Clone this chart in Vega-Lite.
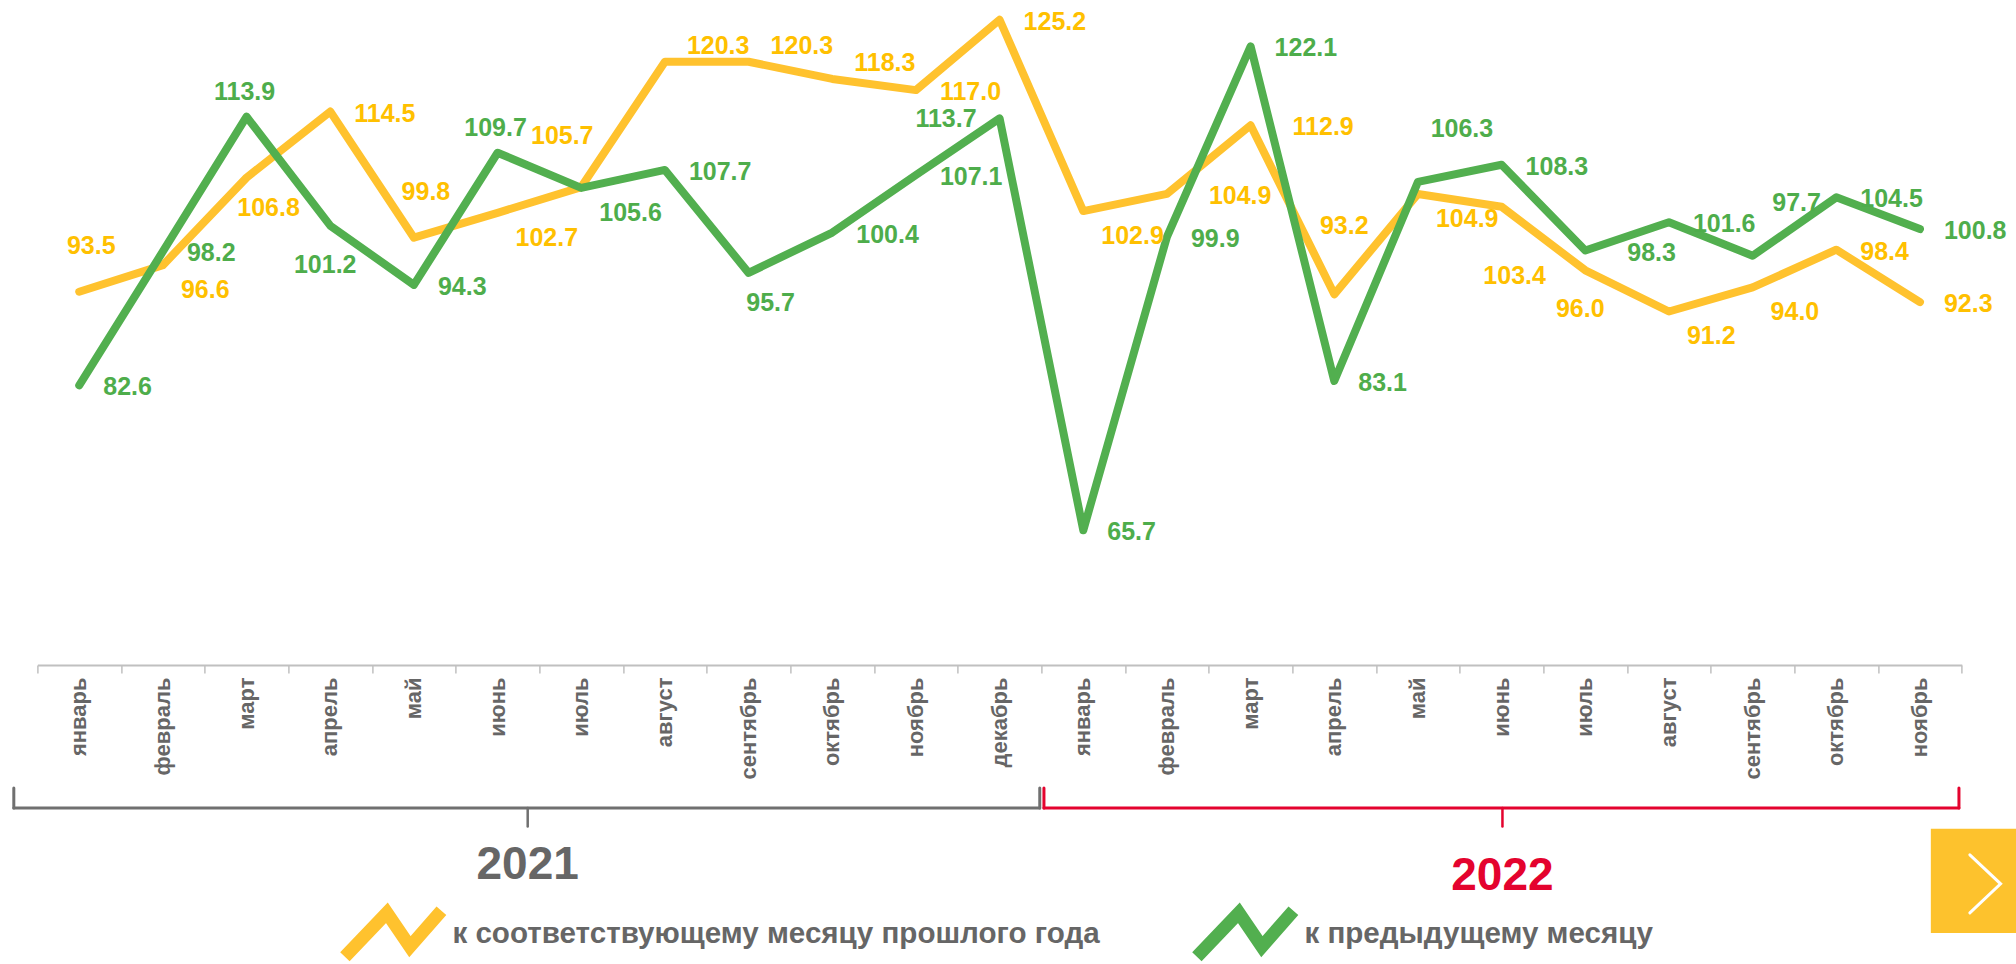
{
  "$schema": "https://vega.github.io/schema/vega-lite/v6.json",
  "background": "white",
  "padding": {"left": 11.4, "top": 0, "right": 0, "bottom": 0},
  "autosize": {"type": "pad"},
  "config": {
    "view": {"stroke": null},
    "font": "Liberation Sans",
    "text": {"font": "Liberation Sans", "fontWeight": "bold", "fontSize": 25, "baseline": "middle"}
  },
  "datasets": {
    "series": [
      {"i": 0, "series": "к соответствующему месяцу прошлого года", "value": 93.5, "pos": "uphigh"},
      {"i": 1, "series": "к соответствующему месяцу прошлого года", "value": 96.6, "pos": "rightdown"},
      {"i": 2, "series": "к соответствующему месяцу прошлого года", "value": 106.8, "pos": "downright"},
      {"i": 3, "series": "к соответствующему месяцу прошлого года", "value": 114.5, "pos": "right"},
      {"i": 4, "series": "к соответствующему месяцу прошлого года", "value": 99.8, "pos": "uphigh"},
      {"i": 5, "series": "к соответствующему месяцу прошлого года", "value": 102.7, "pos": "rightdown"},
      {"i": 6, "series": "к соответствующему месяцу прошлого года", "value": 105.7, "pos": "upleft"},
      {"i": 7, "series": "к соответствующему месяцу прошлого года", "value": 120.3, "pos": "rightup"},
      {"i": 8, "series": "к соответствующему месяцу прошлого года", "value": 120.3, "pos": "rightup"},
      {"i": 9, "series": "к соответствующему месяцу прошлого года", "value": 118.3, "pos": "rightup"},
      {"i": 10, "series": "к соответствующему месяцу прошлого года", "value": 117.0, "pos": "right"},
      {"i": 11, "series": "к соответствующему месяцу прошлого года", "value": 125.2, "pos": "right"},
      {"i": 12, "series": "к соответствующему месяцу прошлого года", "value": 102.9, "pos": "rightdown"},
      {"i": 13, "series": "к соответствующему месяцу прошлого года", "value": 104.9, "pos": "rightfar"},
      {"i": 14, "series": "к соответствующему месяцу прошлого года", "value": 112.9, "pos": "rightfar"},
      {"i": 15, "series": "к соответствующему месяцу прошлого года", "value": 93.2, "pos": "upfar"},
      {"i": 16, "series": "к соответствующему месяцу прошлого года", "value": 104.9, "pos": "rightdown"},
      {"i": 17, "series": "к соответствующему месяцу прошлого года", "value": 103.4, "pos": "downfar"},
      {"i": 18, "series": "к соответствующему месяцу прошлого года", "value": 96.0, "pos": "down"},
      {"i": 19, "series": "к соответствующему месяцу прошлого года", "value": 91.2, "pos": "rightdown"},
      {"i": 20, "series": "к соответствующему месяцу прошлого года", "value": 94.0, "pos": "rightdown"},
      {"i": 21, "series": "к соответствующему месяцу прошлого года", "value": 98.4, "pos": "right"},
      {"i": 22, "series": "к соответствующему месяцу прошлого года", "value": 92.3, "pos": "right"},
      {"i": 0, "series": "к предыдущему месяцу", "value": 82.6, "pos": "right"},
      {"i": 1, "series": "к предыдущему месяцу", "value": 98.2, "pos": "right"},
      {"i": 2, "series": "к предыдущему месяцу", "value": 113.9, "pos": "up"},
      {"i": 3, "series": "к предыдущему месяцу", "value": 101.2, "pos": "down"},
      {"i": 4, "series": "к предыдущему месяцу", "value": 94.3, "pos": "right"},
      {"i": 5, "series": "к предыдущему месяцу", "value": 109.7, "pos": "up"},
      {"i": 6, "series": "к предыдущему месяцу", "value": 105.6, "pos": "rightdown"},
      {"i": 7, "series": "к предыдущему месяцу", "value": 107.7, "pos": "right"},
      {"i": 8, "series": "к предыдущему месяцу", "value": 95.7, "pos": "downright"},
      {"i": 9, "series": "к предыдущему месяцу", "value": 100.4, "pos": "right"},
      {"i": 10, "series": "к предыдущему месяцу", "value": 107.1, "pos": "right"},
      {"i": 11, "series": "к предыдущему месяцу", "value": 113.7, "pos": "left"},
      {"i": 12, "series": "к предыдущему месяцу", "value": 65.7, "pos": "right"},
      {"i": 13, "series": "к предыдущему месяцу", "value": 99.9, "pos": "right"},
      {"i": 14, "series": "к предыдущему месяцу", "value": 122.1, "pos": "right"},
      {"i": 15, "series": "к предыдущему месяцу", "value": 83.1, "pos": "right"},
      {"i": 16, "series": "к предыдущему месяцу", "value": 106.3, "pos": "upright"},
      {"i": 17, "series": "к предыдущему месяцу", "value": 108.3, "pos": "right"},
      {"i": 18, "series": "к предыдущему месяцу", "value": 98.3, "pos": "rightfar"},
      {"i": 19, "series": "к предыдущему месяцу", "value": 101.6, "pos": "right"},
      {"i": 20, "series": "к предыдущему месяцу", "value": 97.7, "pos": "upright"},
      {"i": 21, "series": "к предыдущему месяцу", "value": 104.5, "pos": "right"},
      {"i": 22, "series": "к предыдущему месяцу", "value": 100.8, "pos": "right"}
    ],
    "months": [
      {"i": 0, "month": "январь", "year": "2021"},
      {"i": 1, "month": "февраль", "year": "2021"},
      {"i": 2, "month": "март", "year": "2021"},
      {"i": 3, "month": "апрель", "year": "2021"},
      {"i": 4, "month": "май", "year": "2021"},
      {"i": 5, "month": "июнь", "year": "2021"},
      {"i": 6, "month": "июль", "year": "2021"},
      {"i": 7, "month": "август", "year": "2021"},
      {"i": 8, "month": "сентябрь", "year": "2021"},
      {"i": 9, "month": "октябрь", "year": "2021"},
      {"i": 10, "month": "ноябрь", "year": "2021"},
      {"i": 11, "month": "декабрь", "year": "2021"},
      {"i": 12, "month": "январь", "year": "2022"},
      {"i": 13, "month": "февраль", "year": "2022"},
      {"i": 14, "month": "март", "year": "2022"},
      {"i": 15, "month": "апрель", "year": "2022"},
      {"i": 16, "month": "май", "year": "2022"},
      {"i": 17, "month": "июнь", "year": "2022"},
      {"i": 18, "month": "июль", "year": "2022"},
      {"i": 19, "month": "август", "year": "2022"},
      {"i": 20, "month": "сентябрь", "year": "2022"},
      {"i": 21, "month": "октябрь", "year": "2022"},
      {"i": 22, "month": "ноябрь", "year": "2022"}
    ],
    "years": [
      {"year": "2021", "start": -0.782, "end": 11.48, "mid": 5.36},
      {"year": "2022", "start": 11.53, "end": 22.466, "mid": 17.01}
    ],
    "nav": [{"button": "next"}]
  },
  "bounds": "flush",
  "spacing": 0,
  "vconcat": [
    {
      "width": 1924.4,
      "height": 665,
      "data": {"name": "series"},
      "encoding": {
        "x": {
          "field": "i", "type": "ordinal",
          "scale": {"type": "band", "paddingInner": 0, "paddingOuter": 0},
          "axis": {"labels": false, "title": null, "tickBand": "extent", "grid": false,
                   "domainColor": "#c0c0c0", "domainWidth": 2, "tickColor": "#c0c0c0", "tickWidth": 1.5, "tickSize": 8}
        },
        "y": {"field": "value", "type": "quantitative", "scale": {"domain": [50, 127.5], "zero": false, "nice": false}, "axis": null}
      },
      "layer": [
        {
          "transform": [{"filter": "datum.series === 'к соответствующему месяцу прошлого года'"}],
          "mark": {"type": "line", "strokeWidth": 8, "strokeCap": "round", "strokeJoin": "round"},
          "encoding": {
            "color": {
              "field": "series", "type": "nominal",
              "scale": {"domain": ["к соответствующему месяцу прошлого года", "к предыдущему месяцу"], "range": ["#FFC22E", "#52AF4F"]},
              "legend": {"orient": "none", "legendX": 300, "legendY": 877, "direction": "horizontal", "title": null,
                         "symbolType": "M-0.98,0.46L-0.14,-0.42L0.32,0.26L0.95,-0.46", "symbolSize": 10000, "symbolStrokeWidth": 13,
                         "symbolFillColor": "transparent", "labelFont": "Liberation Sans", "labelFontSize": 29.6, "labelFontWeight": "bold",
                         "labelColor": "#666666", "labelOffset": 2, "columnPadding": 70, "padding": 0, "labelLimit": 0}
            }
          }
        },
        {
          "transform": [{"filter": "datum.series === 'к предыдущему месяцу'"}],
          "mark": {"type": "line", "strokeWidth": 8, "strokeCap": "round", "strokeJoin": "round"},
          "encoding": {
            "color": {
              "field": "series", "type": "nominal",
              "scale": {"domain": ["к соответствующему месяцу прошлого года", "к предыдущему месяцу"], "range": ["#FFC22E", "#52AF4F"]},
              "legend": {"orient": "none", "legendX": 300, "legendY": 877, "direction": "horizontal", "title": null,
                         "symbolType": "M-0.98,0.46L-0.14,-0.42L0.32,0.26L0.95,-0.46", "symbolSize": 10000, "symbolStrokeWidth": 13,
                         "symbolFillColor": "transparent", "labelFont": "Liberation Sans", "labelFontSize": 29.6, "labelFontWeight": "bold",
                         "labelColor": "#666666", "labelOffset": 2, "columnPadding": 70, "padding": 0, "labelLimit": 0}
            }
          }
        },
        {
          "transform": [{"filter": "datum.pos === 'right'"}],
          "mark": {"type": "text", "align": "left", "dx": 24, "dy": 2},
          "encoding": {"text": {"field": "value", "type": "quantitative", "format": ".1f"},
            "color": {"condition": {"test": "datum.series === 'к предыдущему месяцу'", "value": "#4EAD4B"}, "value": "#FFC000"}}
        },
        {
          "transform": [{"filter": "datum.pos === 'rightfar'"}],
          "mark": {"type": "text", "align": "left", "dx": 42, "dy": 2},
          "encoding": {"text": {"field": "value", "type": "quantitative", "format": ".1f"},
            "color": {"condition": {"test": "datum.series === 'к предыдущему месяцу'", "value": "#4EAD4B"}, "value": "#FFC000"}}
        },
        {
          "transform": [{"filter": "datum.pos === 'rightup'"}],
          "mark": {"type": "text", "align": "left", "dx": 22, "dy": -16},
          "encoding": {"text": {"field": "value", "type": "quantitative", "format": ".1f"},
            "color": {"condition": {"test": "datum.series === 'к предыдущему месяцу'", "value": "#4EAD4B"}, "value": "#FFC000"}}
        },
        {
          "transform": [{"filter": "datum.pos === 'rightdown'"}],
          "mark": {"type": "text", "align": "left", "dx": 18, "dy": 25},
          "encoding": {"text": {"field": "value", "type": "quantitative", "format": ".1f"},
            "color": {"condition": {"test": "datum.series === 'к предыдущему месяцу'", "value": "#4EAD4B"}, "value": "#FFC000"}}
        },
        {
          "transform": [{"filter": "datum.pos === 'up'"}],
          "mark": {"type": "text", "align": "center", "dx": -2, "dy": -25},
          "encoding": {"text": {"field": "value", "type": "quantitative", "format": ".1f"},
            "color": {"condition": {"test": "datum.series === 'к предыдущему месяцу'", "value": "#4EAD4B"}, "value": "#FFC000"}}
        },
        {
          "transform": [{"filter": "datum.pos === 'uphigh'"}],
          "mark": {"type": "text", "align": "center", "dx": 12, "dy": -46},
          "encoding": {"text": {"field": "value", "type": "quantitative", "format": ".1f"},
            "color": {"condition": {"test": "datum.series === 'к предыдущему месяцу'", "value": "#4EAD4B"}, "value": "#FFC000"}}
        },
        {
          "transform": [{"filter": "datum.pos === 'upfar'"}],
          "mark": {"type": "text", "align": "center", "dx": 10, "dy": -68},
          "encoding": {"text": {"field": "value", "type": "quantitative", "format": ".1f"},
            "color": {"condition": {"test": "datum.series === 'к предыдущему месяцу'", "value": "#4EAD4B"}, "value": "#FFC000"}}
        },
        {
          "transform": [{"filter": "datum.pos === 'upright'"}],
          "mark": {"type": "text", "align": "center", "dx": 44, "dy": -53},
          "encoding": {"text": {"field": "value", "type": "quantitative", "format": ".1f"},
            "color": {"condition": {"test": "datum.series === 'к предыдущему месяцу'", "value": "#4EAD4B"}, "value": "#FFC000"}}
        },
        {
          "transform": [{"filter": "datum.pos === 'upleft'"}],
          "mark": {"type": "text", "align": "center", "dx": -19, "dy": -51},
          "encoding": {"text": {"field": "value", "type": "quantitative", "format": ".1f"},
            "color": {"condition": {"test": "datum.series === 'к предыдущему месяцу'", "value": "#4EAD4B"}, "value": "#FFC000"}}
        },
        {
          "transform": [{"filter": "datum.pos === 'left'"}],
          "mark": {"type": "text", "align": "right", "dx": -23, "dy": 1},
          "encoding": {"text": {"field": "value", "type": "quantitative", "format": ".1f"},
            "color": {"condition": {"test": "datum.series === 'к предыдущему месяцу'", "value": "#4EAD4B"}, "value": "#FFC000"}}
        },
        {
          "transform": [{"filter": "datum.pos === 'down'"}],
          "mark": {"type": "text", "align": "center", "dx": -5, "dy": 39},
          "encoding": {"text": {"field": "value", "type": "quantitative", "format": ".1f"},
            "color": {"condition": {"test": "datum.series === 'к предыдущему месяцу'", "value": "#4EAD4B"}, "value": "#FFC000"}}
        },
        {
          "transform": [{"filter": "datum.pos === 'downright'"}],
          "mark": {"type": "text", "align": "center", "dx": 22, "dy": 30},
          "encoding": {"text": {"field": "value", "type": "quantitative", "format": ".1f"},
            "color": {"condition": {"test": "datum.series === 'к предыдущему месяцу'", "value": "#4EAD4B"}, "value": "#FFC000"}}
        },
        {
          "transform": [{"filter": "datum.pos === 'downfar'"}],
          "mark": {"type": "text", "align": "center", "dx": 13, "dy": 69},
          "encoding": {"text": {"field": "value", "type": "quantitative", "format": ".1f"},
            "color": {"condition": {"test": "datum.series === 'к предыдущему месяцу'", "value": "#4EAD4B"}, "value": "#FFC000"}}
        }
      ]
    },
    {
      "width": 1924.4,
      "height": 299,
      "layer": [
        {
          "data": {"name": "months"},
          "mark": {"type": "text", "angle": 270, "align": "right", "baseline": "middle", "fontSize": 22, "fontWeight": "bold", "color": "#666666"},
          "encoding": {
            "x": {"field": "i", "type": "quantitative", "scale": {"domain": [-0.5, 22.5], "nice": false, "zero": false}, "axis": null},
            "y": {"datum": 4.2, "type": "quantitative", "scale": {"domain": [0, 100], "reverse": true, "nice": false, "zero": false}, "axis": null},
            "text": {"field": "month"}
          }
        },
        {
          "data": {"name": "years"},
          "mark": {"type": "rule", "strokeWidth": 3, "strokeCap": "round"},
          "encoding": {
            "x": {"field": "start", "type": "quantitative"},
            "x2": {"field": "end"},
            "y": {"datum": 47.8, "type": "quantitative"},
            "color": {"condition": {"test": "datum.year === '2021'", "value": "#707070"}, "value": "#E4032E"}
          }
        },
        {
          "data": {"name": "years"},
          "mark": {"type": "rule", "strokeWidth": 3, "strokeCap": "round"},
          "encoding": {
            "x": {"field": "start", "type": "quantitative"},
            "y": {"datum": 41.1, "type": "quantitative"},
            "y2": {"datum": 47.8},
            "color": {"condition": {"test": "datum.year === '2021'", "value": "#707070"}, "value": "#E4032E"}
          }
        },
        {
          "data": {"name": "years"},
          "mark": {"type": "rule", "strokeWidth": 3, "strokeCap": "round"},
          "encoding": {
            "x": {"field": "end", "type": "quantitative"},
            "y": {"datum": 41.1, "type": "quantitative"},
            "y2": {"datum": 47.8},
            "color": {"condition": {"test": "datum.year === '2021'", "value": "#707070"}, "value": "#E4032E"}
          }
        },
        {
          "data": {"name": "years"},
          "mark": {"type": "rule", "strokeWidth": 2.5, "strokeCap": "round"},
          "encoding": {
            "x": {"field": "mid", "type": "quantitative"},
            "y": {"datum": 47.8, "type": "quantitative"},
            "y2": {"datum": 54},
            "color": {"condition": {"test": "datum.year === '2021'", "value": "#707070"}, "value": "#E4032E"}
          }
        },
        {
          "data": {"name": "years"},
          "transform": [{"filter": "datum.year === '2021'"}],
          "mark": {"type": "text", "fontSize": 46, "fontWeight": "bold", "align": "center", "baseline": "middle", "color": "#666666"},
          "encoding": {
            "x": {"field": "mid", "type": "quantitative"},
            "y": {"datum": 66.9, "type": "quantitative"},
            "text": {"field": "year"}
          }
        },
        {
          "data": {"name": "years"},
          "transform": [{"filter": "datum.year === '2022'"}],
          "mark": {"type": "text", "fontSize": 46, "fontWeight": "bold", "align": "center", "baseline": "middle", "color": "#E4032E"},
          "encoding": {
            "x": {"field": "mid", "type": "quantitative"},
            "y": {"datum": 70.6, "type": "quantitative"},
            "text": {"field": "year"}
          }
        },
        {
          "data": {"name": "nav"},
          "mark": {"type": "rect", "color": "#FDC22D"},
          "encoding": {
            "x": {"datum": 22.13, "type": "quantitative"},
            "x2": {"datum": 23.2},
            "y": {"datum": 54.8, "type": "quantitative"},
            "y2": {"datum": 89.6}
          }
        },
        {
          "data": {"name": "nav"},
          "mark": {"type": "point", "shape": "M-0.53,-1L0.53,0L-0.53,1", "size": 3364, "filled": false, "stroke": "white", "strokeWidth": 3, "opacity": 1, "strokeCap": "round"},
          "encoding": {
            "x": {"datum": 22.78, "type": "quantitative"},
            "y": {"datum": 73.2, "type": "quantitative"}
          }
        }
      ]
    }
  ]
}
